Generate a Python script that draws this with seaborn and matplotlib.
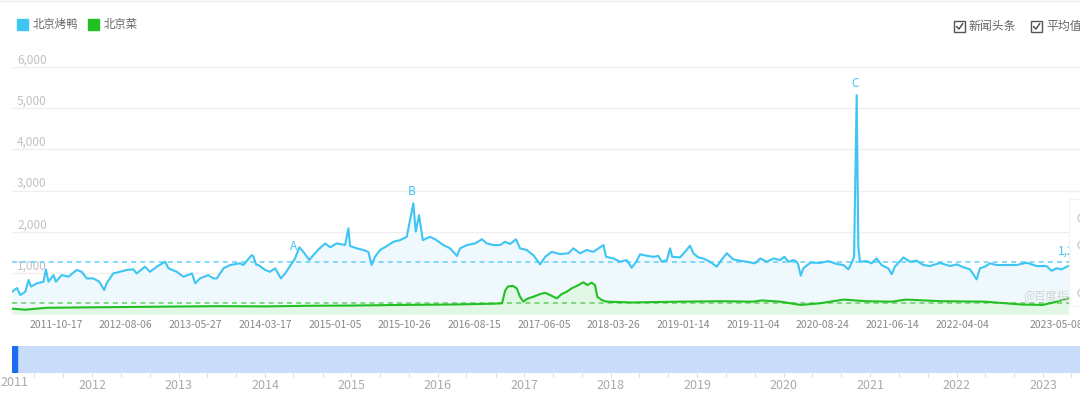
import pandas as pd
import numpy as np
import matplotlib
matplotlib.use("Agg")
import matplotlib.pyplot as plt
import matplotlib.dates as mdates
import matplotlib.transforms as mtransforms
from matplotlib.patches import Rectangle, Ellipse
from matplotlib.lines import Line2D
import seaborn as sns

sns.set_theme(style="white")
plt.rcParams['font.family'] = ['Noto Sans CJK SC', 'DejaVu Sans']

# search index
duck_dates = [
    '2011-04-14', '2011-05-05', '2011-05-19', '2011-06-09', '2011-06-23', '2011-07-03',
    '2011-07-28', '2011-08-25', '2011-09-04', '2011-09-15', '2011-10-06', '2011-10-16',
    '2011-11-10', '2011-12-08', '2012-01-12', '2012-02-02', '2012-02-23', '2012-03-22',
    '2012-04-16', '2012-05-07', '2012-05-17', '2012-06-14', '2012-07-12', '2012-08-10',
    '2012-09-07', '2012-09-21', '2012-10-26', '2012-11-16', '2012-12-15', '2013-01-19',
    '2013-02-02', '2013-03-09', '2013-04-06', '2013-05-12', '2013-05-26', '2013-06-15',
    '2013-07-20', '2013-08-10', '2013-08-25', '2013-09-22', '2013-10-20', '2013-12-01',
    '2013-12-15', '2014-01-19', '2014-01-26', '2014-02-07', '2014-02-16', '2014-03-17',
    '2014-04-06', '2014-04-28', '2014-05-22', '2014-06-09', '2014-07-07', '2014-07-21',
    '2014-08-08', '2014-08-25', '2014-09-19', '2014-10-06', '2014-10-28', '2014-11-25',
    '2014-12-16', '2015-01-13', '2015-02-17', '2015-03-03', '2015-03-10', '2015-04-07',
    '2015-05-05', '2015-05-26', '2015-06-09', '2015-06-23', '2015-07-15', '2015-08-12',
    '2015-09-09', '2015-10-07', '2015-11-04', '2015-11-18', '2015-12-02', '2015-12-12',
    '2015-12-26', '2016-01-11', '2016-02-10', '2016-03-09', '2016-04-06', '2016-05-05',
    '2016-06-03', '2016-06-16', '2016-07-15', '2016-08-18', '2016-09-16', '2016-10-07',
    '2016-11-04', '2016-12-02', '2016-12-23', '2017-01-13', '2017-02-07', '2017-02-24',
    '2017-03-24', '2017-04-21', '2017-05-20', '2017-06-10', '2017-07-08', '2017-08-12',
    '2017-09-16', '2017-10-07', '2017-11-04', '2017-12-02', '2017-12-30', '2018-02-11',
    '2018-02-22', '2018-03-25', '2018-04-22', '2018-05-20', '2018-06-10', '2018-07-01',
    '2018-07-15', '2018-08-12', '2018-09-09', '2018-09-30', '2018-10-15', '2018-11-05',
    '2018-11-19', '2018-11-28', '2018-12-31', '2019-01-21', '2019-02-11', '2019-02-25',
    '2019-03-18', '2019-04-08', '2019-05-06', '2019-06-04', '2019-06-25', '2019-07-16',
    '2019-08-13', '2019-09-10', '2019-10-08', '2019-11-12', '2019-12-04', '2020-01-01',
    '2020-01-29', '2020-02-26', '2020-03-15', '2020-04-01', '2020-04-22', '2020-05-06',
    '2020-05-13', '2020-05-23', '2020-06-03', '2020-07-03', '2020-08-12', '2020-09-16',
    '2020-10-22', '2020-11-19', '2020-12-10', '2020-12-24', '2021-01-03', '2021-01-14',
    '2021-01-21', '2021-01-28', '2021-02-25', '2021-03-18', '2021-04-08', '2021-04-29',
    '2021-05-27', '2021-06-11', '2021-06-24', '2021-07-30', '2021-08-27', '2021-09-24',
    '2021-10-22', '2021-11-19', '2021-12-31', '2022-02-12', '2022-03-12', '2022-04-09',
    '2022-05-07', '2022-06-04', '2022-06-18', '2022-07-09', '2022-07-30', '2022-08-28',
    '2022-10-09', '2022-11-20', '2023-01-01', '2023-02-12', '2023-03-26', '2023-04-16',
    '2023-05-07', '2023-05-28', '2023-06-25',
]
duck_values = [
    540, 630, 460, 540, 825, 665,
    745, 785, 1085, 785, 945, 785,
    945, 905, 1070, 1025, 865, 865,
    785, 580, 745, 985, 1025, 1070,
    1085, 985, 1150, 1025, 1150, 1270,
    1110, 1025, 905, 985, 745, 865,
    945, 865, 865, 1110, 1190, 1230,
    1190, 1430, 1400, 1200, 1190, 1070,
    1025, 1110, 865, 985, 1230, 1350,
    1620, 1510, 1310, 1430, 1570, 1715,
    1620, 1715, 1675, 2080, 1650, 1595,
    1555, 1510, 1190, 1390, 1555, 1650,
    1755, 1795, 1875, 2280, 2690, 2000,
    2400, 1795, 1875, 1795, 1675, 1595,
    1410, 1595, 1675, 1715, 1815, 1715,
    1675, 1675, 1755, 1700, 1815, 1595,
    1555, 1430, 1205, 1390, 1510, 1455,
    1475, 1595, 1475, 1555, 1510, 1675,
    1390, 1350, 1270, 1310, 1125, 1290,
    1450, 1415, 1390, 1410, 1270, 1310,
    1595, 1390, 1375, 1510, 1660, 1475,
    1375, 1350, 1270, 1150, 1325, 1475,
    1325, 1295, 1270, 1230, 1350, 1270,
    1350, 1310, 1390, 1270, 1310, 1270,
    1190, 930, 1110, 1250, 1240, 1285,
    1215, 1190, 1085, 1245, 1390, 5315,
    1635, 1270, 1285, 1230, 1350, 1190,
    1110, 965, 1150, 1375, 1270, 1295,
    1190, 1165, 1240, 1165, 1205, 1135,
    1085, 840, 1110, 1150, 1230, 1190,
    1190, 1190, 1245, 1165, 1165, 1050,
    1110, 1085, 1165,
]

cuisine_dates = [
    '2011-04-14', '2011-06-09', '2011-09-04', '2012-02-02', '2012-08-10', '2013-02-02',
    '2013-08-25', '2014-03-17', '2014-09-19', '2015-03-10', '2015-10-07', '2016-05-05',
    '2016-11-04', '2016-12-10', '2016-12-23', '2017-01-03', '2017-01-24', '2017-02-10',
    '2017-02-24', '2017-03-10', '2017-03-24', '2017-04-21', '2017-05-20', '2017-06-10',
    '2017-07-01', '2017-07-29', '2017-08-19', '2017-09-09', '2017-09-30', '2017-10-21',
    '2017-11-18', '2017-12-05', '2017-12-23', '2018-01-06', '2018-01-16', '2018-02-03',
    '2018-02-24', '2018-06-10', '2018-12-31', '2019-06-25', '2019-11-04', '2019-12-10',
    '2020-02-26', '2020-05-23', '2020-08-12', '2020-11-19', '2021-02-25', '2021-06-11',
    '2021-08-10', '2022-01-10', '2022-07-09', '2022-12-10', '2023-03-10', '2023-05-07',
    '2023-06-25',
]
cuisine_values = [
    130, 105, 150, 160, 170, 180,
    190, 185, 200, 205, 220, 230,
    250, 260, 565, 665, 685, 625,
    420, 300, 365, 420, 485, 515,
    460, 380, 485, 540, 625, 680,
    770, 705, 760, 705, 420, 340,
    300, 280, 300, 310, 300, 330,
    300, 220, 260, 350, 310, 300,
    350, 310, 300, 230, 220, 300,
    380,
]

duck_avg = 1270
cuisine_avg = 260

series_names = ['北京烤鸭', '北京菜']
tick_dates = ['2011-10-17', '2012-08-06', '2013-05-27', '2014-03-17', '2015-01-05',
              '2015-10-26', '2016-08-15', '2017-06-05', '2018-03-26', '2019-01-14',
              '2019-11-04', '2020-08-24', '2021-06-14', '2022-04-04', '2023-05-08']
y_ticks = [1000, 2000, 3000, 4000, 5000, 6000]
news_letters = ['A', 'B', 'C']
news_dates = ['2014-07-21', '2015-12-02', '2021-01-14']
slider_years = list(range(2012, 2024))

BLUE = '#3ec5f3'
GREEN = '#22c022'
W, H = 1080, 393

duck = pd.DataFrame({'date': pd.to_datetime(duck_dates), 'value': duck_values})
cuisine = pd.DataFrame({'date': pd.to_datetime(cuisine_dates), 'value': cuisine_values})

fig = plt.figure(figsize=(W / 100, H / 100), dpi=100)
fig.patch.set_facecolor('white')

# main chart
ax = fig.add_axes([12 / W, 1 - 314 / H, 1 - 12 / W, (314 - 67) / H])
ax.set_xlim(pd.Timestamp('2011-04-14'), pd.Timestamp('2023-08-14'))
ax.set_ylim(0, 6000)
for s in ax.spines.values():
    s.set_visible(False)

ax.set_yticks(y_ticks)
ax.yaxis.grid(True, color='#eeeeee', linewidth=0.9)
ax.set_axisbelow(True)
ax.tick_params(axis='y', left=False, labelleft=False)

trans = mtransforms.blended_transform_factory(ax.transAxes, ax.transData)
for v in y_ticks:
    ax.text(5 / 1068, v + 10, f'{v:,}', transform=trans, ha='left', va='bottom',
            fontsize=8.5, color='#c0c0c0', zorder=1)

ax.fill_between(duck['date'], duck['value'], color='#eff9fd', zorder=1, linewidth=0)
ax.fill_between(cuisine['date'], cuisine['value'], color='#e2f6e6', zorder=1.5, linewidth=0)

ax.axhline(duck_avg, color='#6fd2f6', linestyle=(0, (3, 2.5)), linewidth=1.2, zorder=2)
ax.axhline(cuisine_avg, color='#6fd36f', linestyle=(0, (3, 2.5)), linewidth=1.2, zorder=2)

sns.lineplot(data=duck, x='date', y='value', ax=ax, color=BLUE, linewidth=1.5, zorder=4)
sns.lineplot(data=cuisine, x='date', y='value', ax=ax, color=GREEN, linewidth=1.5, zorder=4)
ax.set_xlabel('')
ax.set_ylabel('')

ax.set_xticks(pd.to_datetime(tick_dates))
ax.set_xticklabels(tick_dates)
ax.tick_params(axis='x', length=0, pad=4.5, labelsize=7.5, labelcolor='#888888')

ax.text((1058 - 12) / 1068, duck_avg + 90, f'{duck_avg:,}', transform=trans,
        ha='left', va='bottom', fontsize=8.5, color=BLUE, zorder=5)
ax.text((1067 - 12) / 1068, cuisine_avg + 90, f'{cuisine_avg}', transform=trans,
        ha='left', va='bottom', fontsize=8.5, color=GREEN, zorder=5)

# news headline markers
lookup = dict(zip(duck['date'], duck['value']))
for letter, d in zip(news_letters, news_dates):
    t = pd.Timestamp(d)
    ax.annotate(letter, (t, lookup[t]), xytext=(-1, 4), textcoords='offset points',
                ha='center', va='bottom', fontsize=8.5, color=BLUE, zorder=6)

# watermark
fig.text(1023 / W, 1 - 297 / H, '@百度指数', fontsize=8.3, color='#d3d3d3',
         ha='left', va='center', zorder=5)

# legend (top left)
colors = [BLUE, GREEN]
lx = [17, 88]
for name, c, x0 in zip(series_names, colors, lx):
    fig.patches.append(Rectangle((x0 / W, 1 - 30 / H), 11 / W, 11 / H,
                                 transform=fig.transFigure, color=c, zorder=5))
    fig.text((x0 + 16) / W, 1 - 24.5 / H, name, fontsize=8.2, color='#666666',
             ha='left', va='center')

# checkboxes (top right)
for x0, label in [(954, '新闻头条'), (1031, '平均值')]:
    fig.patches.append(Rectangle((x0 / W, 1 - 32 / H), 11 / W, 11 / H,
                                 transform=fig.transFigure, facecolor='white',
                                 edgecolor='#555555', linewidth=1.0, zorder=5))
    fig.lines.append(Line2D([(x0 + 2.5) / W, (x0 + 5) / W, (x0 + 8.8) / W],
                            [1 - 26.5 / H, 1 - 29 / H, 1 - 23.5 / H],
                            transform=fig.transFigure, color='#444444',
                            linewidth=1.0, zorder=6))
    fig.text((x0 + 15) / W, 1 - 26.5 / H, label, fontsize=8.6, color='#666666',
             ha='left', va='center')

fig.lines.append(Line2D([0, 1], [1 - 0.8 / H, 1 - 0.8 / H], transform=fig.transFigure,
                        color='#eeeeee', linewidth=1.0))

# side panel partly visible at the right edge
fig.patches.append(Rectangle((1069 / W, 1 - 306 / H), 12 / W, 107 / H,
                             transform=fig.transFigure, facecolor='white',
                             edgecolor='#f2f2f2', linewidth=0.8, zorder=10))
for cy in [218, 245, 293]:
    fig.patches.append(Ellipse((1082 / W, 1 - cy / H), 8 / W, 8 / H,
                               transform=fig.transFigure, fill=False,
                               edgecolor='#d2d2d2', linewidth=1.2, zorder=11))

# range slider
sl = fig.add_axes([12 / W, 1 - 373 / H, 1 - 12 / W, 27 / H])
sl.set_facecolor('#c9dcfa')
sl.set_xlim(pd.Timestamp('2011-01-28'), pd.Timestamp('2023-06-06'))
sl.set_ylim(0, 1)
for s in sl.spines.values():
    s.set_visible(False)
sl.set_yticks([])
sl.set_xticks(pd.to_datetime([f'{y}-01-01' for y in slider_years]))
sl.set_xticklabels([str(y) for y in slider_years])
sl.xaxis.set_minor_locator(mdates.MonthLocator(bymonth=[5, 9]))
sl.tick_params(axis='x', which='both', direction='out', length=3.0, width=0.8,
               color='#dddddd', pad=1.5, labelsize=9, labelcolor='#aaaaaa', bottom=True)
sl.add_patch(Rectangle((0, 0), 4.5 / 1068, 1, transform=sl.transAxes,
                       color='#1b6cf2', zorder=3))
fig.text(0, 1 - 383 / H, '2011', fontsize=9, color='#aaaaaa', ha='left', va='center')

fig.savefig('out.png', dpi=100, facecolor='white')
